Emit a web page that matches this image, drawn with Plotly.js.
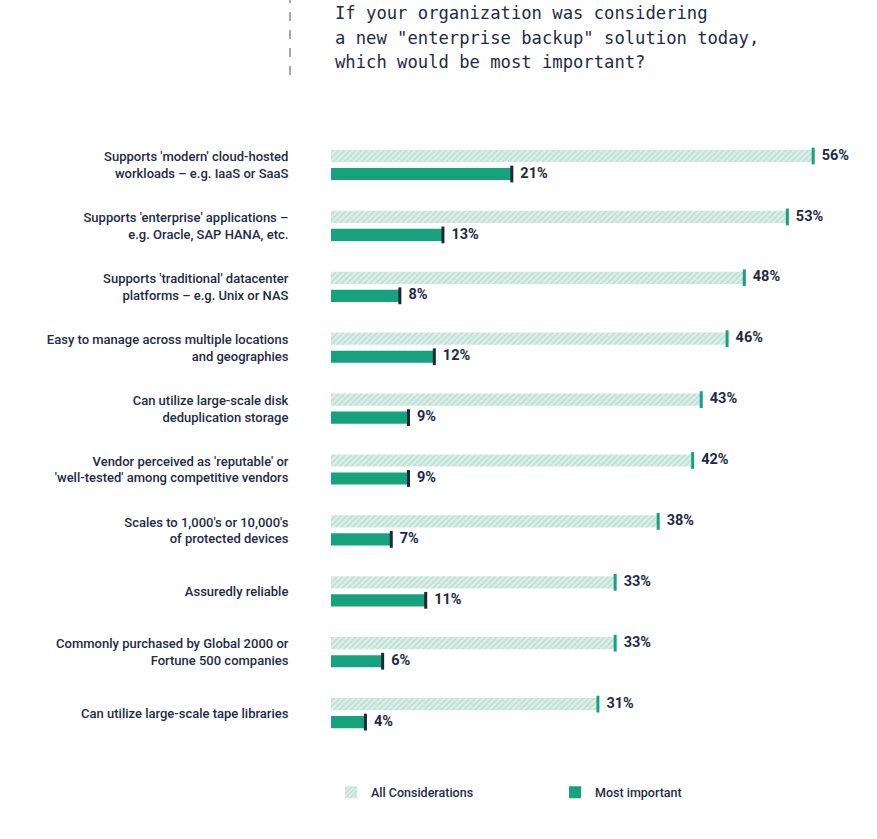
<!DOCTYPE html>
<html>
<head>
<meta charset="utf-8">
<script src="https://cdn.plot.ly/plotly-3.0.1.min.js"></script>
<style>html,body{margin:0;padding:0;background:#fff;}</style>
</head>
<body>
<div id="chart" style="width:877px;height:839px;"></div>
<script>
const categories = [
  "Supports 'modern' cloud-hosted<br>workloads – e.g. IaaS or SaaS",
  "Supports 'enterprise' applications –<br>e.g. Oracle, SAP HANA, etc.",
  "Supports 'traditional' datacenter<br>platforms – e.g. Unix or NAS",
  "Easy to manage across multiple locations<br>and geographies",
  "Can utilize large-scale disk<br>deduplication storage",
  "Vendor perceived as 'reputable' or<br>'well-tested' among competitive vendors",
  "Scales to 1,000's or 10,000's<br>of protected devices",
  "Assuredly reliable",
  "Commonly purchased by Global 2000 or<br>Fortune 500 companies",
  "Can utilize large-scale tape libraries"
];
const allConsiderations = [56, 53, 48, 46, 43, 42, 38, 33, 33, 31];
const mostImportant = [21, 13, 8, 12, 9, 9, 7, 11, 6, 4];
const seriesNames = ["All Considerations", "Most important"];
const titleLines = [
  "If your organization was considering",
  "a new \"enterprise backup\" solution today,",
  "which would be most important?"
];

const idx = categories.map((_, i) => i);
const off = 0.148;
const yAll = idx.map(i => i - off);
const yMost = idx.map(i => i + off);
const labelFont = "Roboto, 'Liberation Sans', sans-serif";
const navy = '#1d2b45';
const green = '#17a27e';
const plotTop = 130, plotH = 630;
const pyFromPx = px => 1 + (plotTop - px) / plotH;

const traces = [
  {
    type: 'bar', orientation: 'h', name: seriesNames[0],
    x: allConsiderations, y: yAll, width: 0.2,
    marker: {color: '#d3ebe3', line: {width: 0},
      pattern: {shape: '/', fgcolor: '#b5d9cd', bgcolor: '#dbefe9', size: 4, solidity: 0.3}},
    hoverinfo: 'x'
  },
  {
    type: 'bar', orientation: 'h', name: seriesNames[1],
    x: mostImportant, y: yMost, width: 0.2,
    marker: {color: green, line: {width: 0}},
    hoverinfo: 'x'
  },
  {
    type: 'scatter', mode: 'markers+text', showlegend: false,
    x: allConsiderations, y: yAll,
    text: allConsiderations.map(v => v + '%'),
    textposition: 'middle right',
    textfont: {family: labelFont, size: 14.5, weight: 'bold', color: navy},
    marker: {symbol: 'line-ns', size: 12, line: {width: 3, color: green}},
    cliponaxis: false, hoverinfo: 'skip'
  },
  {
    type: 'scatter', mode: 'markers+text', showlegend: false,
    x: mostImportant, y: yMost,
    text: mostImportant.map(v => v + '%'),
    textposition: 'middle right',
    textfont: {family: labelFont, size: 14.5, weight: 'bold', color: navy},
    marker: {symbol: 'line-ns', size: 12, line: {width: 3, color: '#1b2a36'}},
    cliponaxis: false, hoverinfo: 'skip'
  }
];

const titleFont = {family: "'DejaVu Sans Mono', 'Liberation Mono', monospace", size: 17.2, color: navy};
const titlePx = [13, 38, 62];
const annotations = titleLines.map((t, k) => ({
  text: t, xref: 'paper', yref: 'paper',
  x: (333 - 331) / 536, xanchor: 'left',
  y: pyFromPx(titlePx[k]), yanchor: 'middle',
  showarrow: false, font: titleFont, align: 'left'
}));

const layout = {
  width: 877, height: 839,
  margin: {l: 331, r: 10, t: plotTop, b: 839 - plotTop - plotH},
  paper_bgcolor: '#ffffff', plot_bgcolor: '#ffffff',
  showlegend: true,
  barmode: 'overlay',
  annotations: annotations,
  xaxis: {range: [0, 62.25], showgrid: false, zeroline: false, showticklabels: false, showline: false, fixedrange: true},
  yaxis: {
    range: [9.77, -0.575], tickmode: 'array', tickvals: idx, ticktext: categories,
    showgrid: false, zeroline: false, showline: false,
    ticks: 'outside', ticklen: 39, tickcolor: 'rgba(0,0,0,0)',
    tickfont: {family: labelFont, size: 13, weight: 500, color: navy}
  },
  legend: {
    orientation: 'h', x: 0.0, xanchor: 'left', y: -0.028, yanchor: 'top',
    font: {family: labelFont, size: 12.5, weight: 500, color: navy},
    entrywidth: 179, entrywidthmode: 'pixels', itemsizing: 'constant'
  },
  shapes: [{
    type: 'line', xref: 'paper', yref: 'paper',
    x0: (290 - 331) / 536, x1: (290 - 331) / 536,
    y0: pyFromPx(75), y1: pyFromPx(0),
    line: {color: '#8a8a8a', width: 1.5, dash: 'dash'}
  }]
};

Plotly.newPlot('chart', traces, layout, {displayModeBar: false, staticPlot: true});
</script>
</body>
</html>
